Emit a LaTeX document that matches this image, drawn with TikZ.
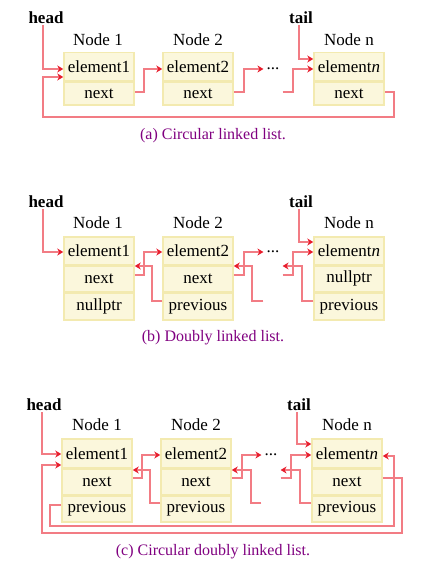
\documentclass[tikz,border=0pt]{standalone}
\usepackage{fontspec}
\setmainfont{Liberation Serif}
\usetikzlibrary{arrows.meta}
\definecolor{cellfill}{RGB}{251,247,220}
\definecolor{cellline}{RGB}{243,234,176}
\definecolor{linkcol}{RGB}{242,124,132}
\definecolor{tipcol}{RGB}{232,30,45}
\definecolor{capcol}{RGB}{128,0,128}
\tikzset{
  cell/.style={draw=cellline, fill=cellfill, line width=1.5pt, minimum width=70pt, inner sep=0pt, font=\fontsize{17}{20}\selectfont, anchor=north},
  lbl/.style={font=\fontsize{17}{20}\selectfont, inner sep=1pt},
  ptr/.style={font=\bfseries\fontsize{17}{20}\selectfont, inner sep=1pt},
  captext/.style={font=\fontsize{16}{19}\selectfont, text=capcol},
  link/.style={draw=linkcol, line width=1.6pt},
  arr/.style={link, -{Stealth[length=6pt,width=7pt,color=tipcol]}},
  dotsnode/.style={font=\fontsize{17}{20}\selectfont, inner sep=3pt},
}
\begin{document}
\begin{tikzpicture}[x=1pt,y=-1pt]
\useasboundingbox (0,0) rectangle (445,572);
% ---------------- (a)
\node[ptr] (hA) at (46,18) {head};
\node[ptr] (tA) at (301,18) {tail};
\node[lbl] (lA1) at (98,40) {Node 1};
\node[lbl] (lA2) at (198,40) {Node 2};
\node[lbl] (lAn) at (349,40) {Node n};
\node[cell, minimum height=28pt] (a1e) at (99,52) {element1};
\node[cell, minimum height=23pt] (a1n) at (a1e.south) {next};
\node[cell, minimum height=28pt] (a2e) at (198,52) {element2};
\node[cell, minimum height=23pt] (a2n) at (a2e.south) {next};
\node[cell, minimum height=28pt] (ane) at (349,52) {element\textit{n}};
\node[cell, minimum height=23pt] (ann) at (ane.south) {next};
\node[dotsnode] (dA) at (273,69) {...};
\draw[arr] (hA.south -| 43,0) -- (43,69) -- (a1e.west |- 0,69);
\draw[arr] (tA.south -| 299,0) -- (299,59) -- (ane.west |- 0,59);
\draw[arr] (a1n.east |- 0,92) -| (144,69) -- (a2e.west |- 0,69);
\draw[arr] (a2n.east |- 0,92) -| (244,69) -- (dA.west);
\draw[arr] (dA.east |- 0,92) -| (293,69) -- (ane.west |- 0,69);
\draw[arr] (ann.east |- 0,92) -| (394,117) -| (43,77) -- (a1e.west |- 0,77);
\node[captext] (capA) at (213,136) {(a) Circular linked list.};
% ---------------- (b)
\node[ptr] (hB) at (46,202) {head};
\node[ptr] (tB) at (301,202) {tail};
\node[lbl] (lB1) at (98,223) {Node 1};
\node[lbl] (lB2) at (198,223) {Node 2};
\node[lbl] (lBn) at (349,223) {Node n};
\node[cell, minimum height=28pt] (b1e) at (99,236) {element1};
\node[cell, minimum height=25pt] (b1n) at (b1e.south) {next};
\node[cell, minimum height=27pt] (b1x) at (b1n.south) {nullptr};
\node[cell, minimum height=28pt] (b2e) at (198,236) {element2};
\node[cell, minimum height=25pt] (b2n) at (b2e.south) {next};
\node[cell, minimum height=27pt] (b2p) at (b2n.south) {previous};
\node[cell, minimum height=28pt] (bne) at (349,236) {element\textit{n}};
\node[cell, minimum height=25pt] (bnx) at (bne.south) {nullptr};
\node[cell, minimum height=27pt] (bnp) at (bnx.south) {previous};
\node[dotsnode] (dB) at (273,252) {...};
\draw[arr] (hB.south -| 43,0) -- (43,252) -- (b1e.west |- 0,252);
\draw[arr] (tB.south -| 299,0) -- (299,242) -- (bne.west |- 0,242);
\draw[arr] (b1n.east |- 0,275) -| (144,252) -- (b2e.west |- 0,252);
\draw[arr] (b2p.west |- 0,301) -| (152,266) -- (b1n.east |- 0,266);
\draw[arr] (b2n.east |- 0,275) -| (244,252) -- (dB.west);
\draw[arr] (dB.west |- 0,301) -| (252,266) -- (b2n.east |- 0,266);
\draw[arr] (dB.east |- 0,275) -| (293,252) -- (bne.west |- 0,252);
\draw[arr] (bnp.west |- 0,301) -| (302,266) -- (dB.east |- 0,266);
\node[captext] (capB) at (213,338) {(b) Doubly linked list.};
% ---------------- (c)
\node[ptr] (hC) at (44,405) {head};
\node[ptr] (tC) at (299,405) {tail};
\node[lbl] (lC1) at (97,425) {Node 1};
\node[lbl] (lC2) at (196,425) {Node 2};
\node[lbl] (lCn) at (347,425) {Node n};
\node[cell, minimum height=29pt] (c1e) at (97,438) {element1};
\node[cell, minimum height=25pt] (c1n) at (c1e.south) {next};
\node[cell, minimum height=26pt] (c1p) at (c1n.south) {previous};
\node[cell, minimum height=29pt] (c2e) at (196,438) {element2};
\node[cell, minimum height=25pt] (c2n) at (c2e.south) {next};
\node[cell, minimum height=26pt] (c2p) at (c2n.south) {previous};
\node[cell, minimum height=29pt] (cne) at (347,438) {element\textit{n}};
\node[cell, minimum height=25pt] (cnn) at (cne.south) {next};
\node[cell, minimum height=26pt] (cnp) at (cnn.south) {previous};
\node[dotsnode] (dC) at (271,455) {...};
\draw[arr] (hC.south -| 42,0) -- (42,454) -- (c1e.west |- 0,454);
\draw[arr] (tC.south -| 297,0) -- (297,444) -- (cne.west |- 0,444);
\draw[arr] (c1n.east |- 0,478) -| (142,455) -- (c2e.west |- 0,455);
\draw[arr] (c2p.west |- 0,503) -| (150,470) -- (c1n.east |- 0,470);
\draw[arr] (c2n.east |- 0,478) -| (242,455) -- (dC.west);
\draw[arr] (dC.west |- 0,503) -| (251,470) -- (c2n.east |- 0,470);
\draw[arr] (dC.east |- 0,478) -| (291,455) -- (cne.west |- 0,455);
\draw[arr] (cnp.west |- 0,503) -| (300,470) -- (dC.east |- 0,470);
\draw[arr] (cnn.east |- 0,478) -| (402,533) -| (42,465) -- (c1e.west |- 0,465);
\draw[arr] (c1p.west |- 0,505) -| (50,526) -| (394,456) -- (cne.east |- 0,456);
\node[captext] (capC) at (213,552) {(c) Circular doubly linked list.};
\end{tikzpicture}
\end{document}
